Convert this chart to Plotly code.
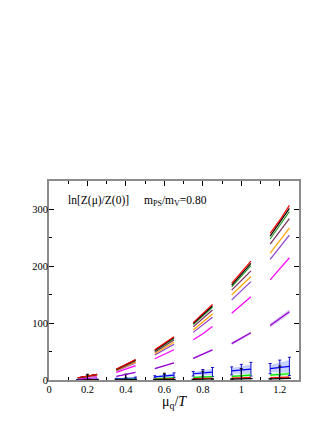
import plotly.graph_objects as go

# window centres (mu_q/T) and sampled offsets inside each window
centers = [0.2, 0.4, 0.6, 0.8, 1.0, 1.2]
offsets = [-0.05, 0.0, 0.05]

# values: [start, mid, end] per window
red_top = [[4, 6.8, 10], [19, 27.5, 36], [53, 64, 76], [101, 116.5, 133], [170, 189, 209], [258, 281, 307]]
black_top = [[3.9, 6.7, 9.8], [18.7, 27, 35.4], [52, 63, 74.7], [99.3, 114.5, 130.7], [167, 185.5, 205], [253, 276.5, 302]]
green_top = [[3.8, 6.5, 9.6], [18.3, 26.4, 34.7], [51, 61.7, 73.2], [97.3, 112, 128], [164, 182, 201], [248, 271, 296]]
maroon_top = [[3.7, 6.3, 9.3], [17.6, 25.3, 33.3], [49, 59.2, 70.3], [93.4, 107.5, 123], [158, 175, 192], [239, 261, 284]]
orange_top = [[3.5, 5.9, 8.7], [16.6, 23.8, 31.4], [46.2, 55.8, 66.3], [88, 101.3, 116], [149.5, 165.5, 182], [223, 245, 267]]
indigo_top = [[3.3, 5.6, 8.3], [15.8, 22.6, 29.9], [44, 53.1, 63], [83.8, 96.4, 110.4], [141, 157, 173], [212, 233, 255]]
magenta_mid = [[2.8, 4.8, 7], [13.3, 19, 25.2], [37.5, 45, 53.2], [70.7, 81.3, 94], [117.5, 132, 146.5], [176, 195, 215]]
violet_mid = [[1.5, 2.5, 4], [6.5, 9.5, 13.5], [20, 25, 30], [38, 45, 53], [64, 73, 83], [96, 108, 120]]
violet_err = [[0.3, 0.3, 0.3], [0.6, 0.6, 0.6], [1, 1, 1], [1.5, 1.5, 1.5], [2.5, 2.5, 2.5], [4, 4, 4]]
blue_low = [[0.5, 0.7, 1], [2, 2.7, 3.5], [5.5, 6.8, 8.5], [11, 12.5, 14], [16, 17.5, 19], [20, 22, 24]]
blue_err = [[0.3, 0.4, 0.5], [1, 1.3, 1.6], [2, 3, 4], [4, 6, 8], [7, 10, 12], [9, 13, 16]]
green_low = [[0.3, 0.4, 0.5], [1, 1.3, 1.7], [2.5, 3, 3.7], [4.5, 5.2, 6], [6.5, 7.5, 8.5], [8.5, 9.5, 11]]
green_err = [[0.2, 0.2, 0.3], [0.5, 0.6, 0.7], [1, 1.2, 1.4], [1.5, 1.8, 2], [2, 2.5, 3], [2.5, 3, 3.5]]
red_low = [[0.1, 0.15, 0.2], [0.5, 0.7, 0.9], [1.3, 1.6, 2], [2.3, 2.7, 3.1], [3.2, 3.7, 4.2], [4, 4.6, 5.2]]
red_err = [[0.1, 0.1, 0.1], [0.3, 0.3, 0.4], [0.6, 0.7, 0.8], [1, 1.1, 1.2], [1.3, 1.5, 1.7], [1.6, 1.8, 2]]
black_low = [[0.1, 0.1, 0.15], [0.3, 0.4, 0.5], [0.7, 0.9, 1.1], [1.2, 1.5, 1.8], [1.6, 2, 2.4], [2, 2.5, 3]]
black_err = [[0, 10, 0], [0, 10, 0], [0, 11, 0], [0, 14, 0], [0, 18, 0], [0, 22, 0]]

x_title = "μ<sub>q</sub>/<i>T</i>"
label_left = "ln[Z(μ)/Z(0)]"
label_right = "m<sub>PS</sub>/m<sub>V</sub>=0.80"
x_ticks = [0, 0.2, 0.4, 0.6, 0.8, 1.0, 1.2]
x_ticktext = ["0", "0.2", "0.4", "0.6", "0.8", "1", "1.2"]
y_ticks = [0, 100, 200, 300]

FONT = "Liberation Serif, Times New Roman, serif"

fig = go.Figure()


def xs_for():
    xs = []
    for c in centers:
        xs += [c + o for o in offsets] + [None]
    return xs


def flat(vals):
    out = []
    for w in vals:
        out += list(w) + [None]
    return out


def band(vals, errs, fillcolor):
    xs, ys = [], []
    for c, w, e in zip(centers, vals, errs):
        px = [c + o for o in offsets]
        up = [v + d for v, d in zip(w, e)]
        lo = [v - d for v, d in zip(w, e)]
        xs += px + px[::-1] + [None]
        ys += up + lo[::-1] + [None]
    fig.add_trace(go.Scatter(x=xs, y=ys, mode="lines", fill="toself", fillcolor=fillcolor,
                             line=dict(width=0), hoverinfo="skip", showlegend=False))


def series(vals, color, errs=None, errcolor=None, width=1.2):
    err = None
    if errs is not None:
        arr = []
        for e in errs:
            arr += list(e) + [0]
        err = dict(type="data", array=arr, color=errcolor or color, thickness=1, width=1.5, visible=True)
    fig.add_trace(go.Scatter(x=xs_for(), y=flat(vals), mode="lines", line=dict(color=color, width=width),
                             error_y=err, connectgaps=False, showlegend=False))


# shaded error bands
band(violet_mid, violet_err, "rgba(180,130,230,0.45)")
band(blue_low, [[e * 0.7 for e in w] for w in blue_err], "rgba(120,140,255,0.40)")
band(green_low, green_err, "rgba(120,255,120,0.45)")
band(red_low, red_err, "rgba(255,120,120,0.45)")

# lower series
series(blue_low, "#0000FF", blue_err, "#1010C0")
series(green_low, "#00E000")
series(red_low, "#FF0000")
series(black_low, "#000000", black_err, "#000000")
series(violet_mid, "#9400D3")
# upper series
series(magenta_mid, "#FF00FF")
series(indigo_top, "#8A3FD0")
series(orange_top, "#FFA500")
series(maroon_top, "#7A2A60")
series(green_top, "#2E9A2E")
series(black_top, "#000000")
series(red_top, "#FF0000")

axis_common = dict(showline=True, linecolor="#8c8c8c", linewidth=2, mirror="allticks",
                   ticks="inside", ticklen=5, tickcolor="black", tickwidth=1,
                   showgrid=False, zeroline=False, automargin=False,
                   tickfont=dict(family=FONT, size=10.5, color="black"))

fig.update_xaxes(range=[0, 1.3], tickvals=x_ticks, ticktext=x_ticktext, ticklabelstandoff=-2,
                 minor=dict(ticks="inside", ticklen=3, dtick=0.1, tick0=0, tickcolor="black"),
                 **axis_common)
fig.update_yaxes(range=[0, 350], tickvals=y_ticks, ticklabelstandoff=-3,
                 minor=dict(ticks="inside", ticklen=3, dtick=50, tick0=0, tickcolor="black"),
                 **axis_common)

fig.add_annotation(x=0.5, y=-0.112, xref="paper", yref="paper", xanchor="center", yanchor="middle",
                   text=x_title, showarrow=False, font=dict(family=FONT, size=14, color="black"))
fig.add_annotation(x=0.066, y=0.9, xref="paper", yref="paper", xanchor="left", yanchor="middle",
                   text=label_left, showarrow=False, font=dict(family=FONT, size=11.5, color="black"))
fig.add_annotation(x=0.37, y=0.9, xref="paper", yref="paper", xanchor="left", yanchor="middle",
                   text=label_right, showarrow=False, font=dict(family=FONT, size=11.5, color="black"))

# the page body adds an 8px margin, so the figure is sized to fit the 332x430 window
fig.update_layout(width=316, height=414, margin=dict(l=41, r=25, t=173, b=42, autoexpand=False),
                  paper_bgcolor="white", plot_bgcolor="white", showlegend=False)

fig.write_html("out.html")
